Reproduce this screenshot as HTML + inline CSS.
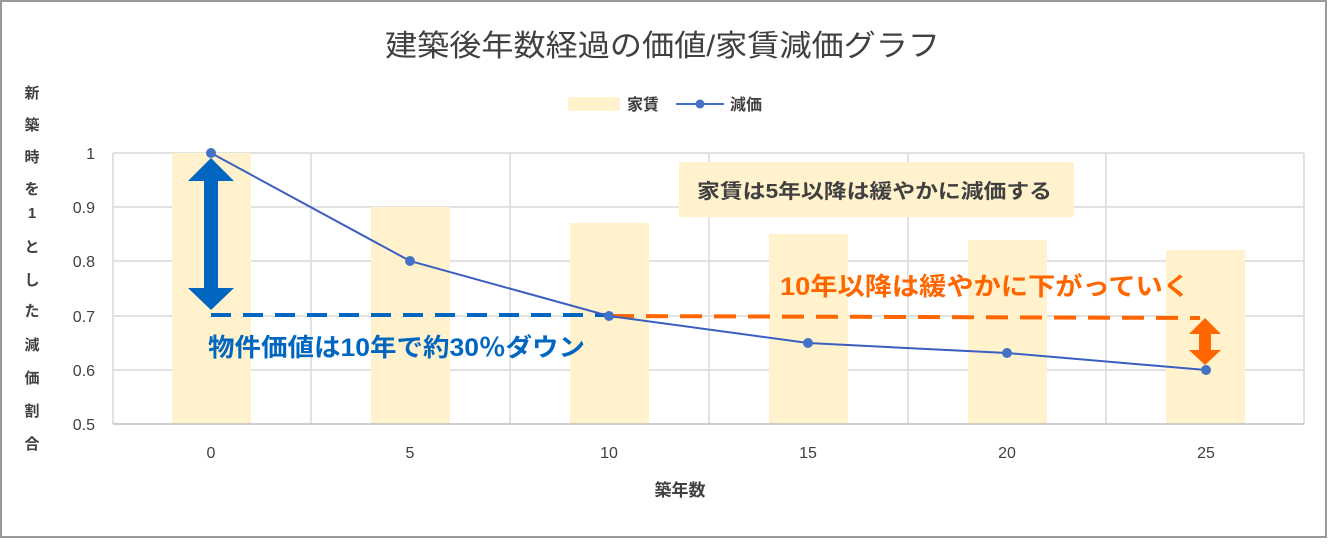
<!DOCTYPE html>
<html><head><meta charset="utf-8"><style>
body{margin:0;background:#fff}
svg text{font-family:"Liberation Sans","Noto Sans CJK JP",sans-serif}
</style></head><body>
<svg width="1332" height="539" viewBox="0 0 1332 539" xmlns="http://www.w3.org/2000/svg">
<rect x="0" y="0" width="1332" height="539" fill="#fff"/>
<rect x="1" y="1" width="1325" height="536" fill="none" stroke="#9a9a9a" stroke-width="2"/>
<text x="385" y="56" font-size="30" fill="#404040" textLength="555" lengthAdjust="spacingAndGlyphs">建築後年数経過の価値/家賃減価グラフ</text>
<!-- legend -->
<rect x="568" y="97" width="52" height="14" fill="#fff2cc"/>
<text x="627" y="110" font-size="16" fill="#404040" font-weight="bold">家賃</text>
<line x1="676" y1="104" x2="724" y2="104" stroke="#4472c4" stroke-width="2"/>
<circle cx="700" cy="104" r="4.5" fill="#4472c4"/>
<text x="730" y="110" font-size="16" fill="#404040" font-weight="bold">減価</text>
<!-- y axis title -->
<g font-size="15" fill="#404040" text-anchor="middle" font-weight="bold">
<text x="32" y="98">新</text><text x="32" y="130">築</text><text x="32" y="162">時</text><text x="32" y="194">を</text><text x="32" y="218">1</text><text x="32" y="252">と</text><text x="32" y="285">し</text><text x="32" y="316">た</text><text x="32" y="350">減</text><text x="32" y="383">価</text><text x="32" y="416">割</text><text x="32" y="449">合</text>
</g>
<!-- grid -->
<g stroke="#d9d9d9" stroke-width="1.5" fill="none">
<line x1="113" y1="153" x2="1304" y2="153"/>
<line x1="113" y1="207" x2="1304" y2="207"/>
<line x1="113" y1="261" x2="1304" y2="261"/>
<line x1="113" y1="316" x2="1304" y2="316"/>
<line x1="113" y1="370" x2="1304" y2="370"/>
<line x1="113" y1="153" x2="113" y2="424"/>
<line x1="311" y1="153" x2="311" y2="424"/>
<line x1="510" y1="153" x2="510" y2="424"/>
<line x1="709" y1="153" x2="709" y2="424"/>
<line x1="908" y1="153" x2="908" y2="424"/>
<line x1="1106" y1="153" x2="1106" y2="424"/>
<line x1="1304" y1="153" x2="1304" y2="424"/>
</g>
<g fill="#fff2cc">
<rect x="172" y="153" width="79" height="271"/>
<rect x="371" y="207" width="79" height="217"/>
<rect x="570" y="223" width="79" height="201"/>
<rect x="769" y="234" width="79" height="190"/>
<rect x="968" y="240" width="79" height="184"/>
<rect x="1166" y="250" width="79" height="174"/>
</g>
<line x1="113" y1="424" x2="1304" y2="424" stroke="#bfbfbf" stroke-width="1.5"/>
<!-- y labels -->
<g font-size="16" fill="#404040" text-anchor="end">
<text x="95" y="159">1</text><text x="95" y="213">0.9</text><text x="95" y="267">0.8</text><text x="95" y="322">0.7</text><text x="95" y="376">0.6</text><text x="95" y="430">0.5</text>
</g>
<g font-size="16" fill="#404040" text-anchor="middle">
<text x="211" y="458">0</text><text x="410" y="458">5</text><text x="609" y="458">10</text><text x="808" y="458">15</text><text x="1007" y="458">20</text><text x="1206" y="458">25</text>
</g>
<text x="680" y="496" font-size="17" font-weight="bold" fill="#404040" text-anchor="middle">築年数</text>
<!-- annotation box -->
<rect x="679" y="162" width="395" height="55" fill="#fff2cc"/>
<text x="697" y="198" font-size="20" fill="#404040" font-weight="bold" textLength="355" lengthAdjust="spacingAndGlyphs">家賃は5年以降は緩やかに減価する</text>
<!-- blue dashed -->
<line x1="211" y1="315" x2="609" y2="315" stroke="#0066c0" stroke-width="4" stroke-dasharray="20,12"/>
<!-- orange dashed -->
<line x1="612" y1="316" x2="1200" y2="318" stroke="#ff6600" stroke-width="4" stroke-dasharray="22,12"/>
<!-- blue arrow -->
<polygon points="211,158 234,181 218,181 218,288 234,288 211,310 188,288 204,288 204,181 188,181" fill="#0066c0"/>
<!-- orange arrow -->
<polygon points="1205,318 1221,334 1211,334 1211,350 1221,350 1205,365 1189,350 1199,350 1199,334 1189,334" fill="#ff6600"/>
<!-- line series -->
<polyline points="211,153 410,261 609,316 808,343 1007,353 1206,370" fill="none" stroke="#3a5fc0" stroke-width="2"/>
<g fill="#4472c4">
<circle cx="211" cy="153" r="5"/><circle cx="410" cy="261" r="5"/><circle cx="609" cy="316" r="5"/><circle cx="808" cy="343" r="5"/><circle cx="1007" cy="353" r="5"/><circle cx="1206" cy="370" r="5"/>
</g>
<text x="208" y="356" font-size="25" font-weight="bold" fill="#0066c0" textLength="377" lengthAdjust="spacingAndGlyphs">物件価値は10年で約30％ダウン</text>
<text x="780" y="295" font-size="25" font-weight="bold" fill="#ff6600" textLength="410" lengthAdjust="spacingAndGlyphs">10年以降は緩やかに下がっていく</text>
</svg>
</body></html>
